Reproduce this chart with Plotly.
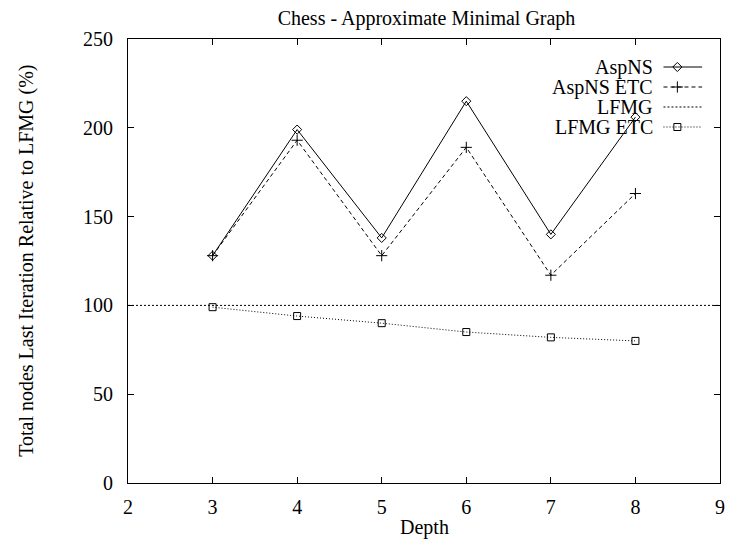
import plotly.graph_objects as go

# ---- data ----
depth = [3, 4, 5, 6, 7, 8]
aspns = [128, 199, 138, 215, 140, 206]
aspns_etc = [128, 193, 128, 189, 117, 163]
lfmg_x = [2, 9]
lfmg = [100, 100]
lfmg_etc = [99, 94, 90, 85, 82, 80]

series_names = ["AspNS", "AspNS ETC", "LFMG", "LFMG ETC"]
x_ticks = [2, 3, 4, 5, 6, 7, 8, 9]
y_ticks = [0, 50, 100, 150, 200, 250]

FONT = "Liberation Serif, Times New Roman, serif"
FS = 20
INK = "#000000"

W, H = 731, 542
L, R, T, B = 128, 725, 39, 483
PW, PH = R - L, B - T

styles = [
    dict(line=dict(color=INK, width=1, dash="solid"),
         marker=dict(symbol="diamond-open", size=7, color=INK, line=dict(width=1, color=INK))),
    dict(line=dict(color=INK, width=1, dash="4px,3px"),
         marker=dict(symbol="cross-thin-open", size=8, color=INK, line=dict(width=1, color=INK))),
    dict(line=dict(color=INK, width=1, dash="2px,2px"),
         marker=dict(size=1, color="rgba(0,0,0,0)")),
    dict(line=dict(color=INK, width=1, dash="1px,2px"),
         marker=dict(symbol="square-open", size=7, color=INK, line=dict(width=1, color=INK))),
]

fig = go.Figure()
fig.add_trace(go.Scatter(x=depth, y=aspns, mode="lines+markers", name=series_names[0], **styles[0]))
fig.add_trace(go.Scatter(x=depth, y=aspns_etc, mode="lines+markers", name=series_names[1], **styles[1]))
fig.add_trace(go.Scatter(x=lfmg_x, y=lfmg, mode="lines", name=series_names[2], line=styles[2]["line"]))
fig.add_trace(go.Scatter(x=depth, y=lfmg_etc, mode="lines+markers", name=series_names[3], **styles[3]))

# ---- custom gnuplot-style key (pixel coordinates on an overlay axis) ----
key_rows = [67, 87, 107, 127]
key_text_right = 659
key_x0, key_x1, key_mark = 668, 707, 682
for i, (nm, st, ky) in enumerate(zip(series_names, styles, key_rows)):
    fig.add_trace(go.Scatter(x=[key_x0, key_x1], y=[ky, ky], mode="lines", line=st["line"],
                             xaxis="x2", yaxis="y2", showlegend=False, hoverinfo="skip"))
    if i != 2:
        fig.add_trace(go.Scatter(x=[key_mark], y=[ky], mode="markers", marker=st["marker"],
                                 xaxis="x2", yaxis="y2", showlegend=False, hoverinfo="skip"))
    fig.add_annotation(x=key_text_right, y=ky, xref="x2", yref="y2", text=nm, showarrow=False,
                       xanchor="right", yanchor="middle", font=dict(family=FONT, size=FS, color=INK))

# axis titles as annotations for precise placement (paper coordinates)
fig.add_annotation(x=0.5, y=(B - 527) / PH, xref="paper", yref="paper", text="Depth",
                   showarrow=False, xanchor="center", yanchor="middle",
                   font=dict(family=FONT, size=FS, color=INK))
fig.add_annotation(x=(25 - L) / PW, y=0.5, xref="paper", yref="paper",
                   text="Total nodes Last Iteration Relative to LFMG (%)", textangle=-90,
                   showarrow=False, xanchor="center", yanchor="middle",
                   font=dict(family=FONT, size=FS, color=INK))

axis_common = dict(showgrid=False, zeroline=False, showline=True, linecolor=INK, linewidth=1,
                   mirror="allticks", ticks="inside", ticklen=6, tickcolor=INK, tickwidth=1,
                   ticklabeloverflow="allow",
                   tickfont=dict(family=FONT, size=FS, color=INK))

fig.update_layout(
    width=W, height=H,
    margin=dict(l=L, r=W - R, t=T, b=H - B, pad=0),
    paper_bgcolor="white", plot_bgcolor="white",
    showlegend=False,
    font=dict(family=FONT, size=FS, color=INK),
    title=dict(text="Chess - Approximate Minimal Graph", x=(L + R) / 2 / W, xanchor="center",
               y=1 - 18 / H, yanchor="middle", font=dict(family=FONT, size=FS, color=INK)),
    xaxis=dict(range=[2, 9], tickvals=x_ticks, ticktext=[str(v) for v in x_ticks],
               ticklabelstandoff=6, **axis_common),
    yaxis=dict(range=[0, 250], tickvals=y_ticks, ticktext=[str(v) for v in y_ticks],
               ticklabelstandoff=10, **axis_common),
    xaxis2=dict(range=[L, R], overlaying="x", visible=False, fixedrange=True),
    yaxis2=dict(range=[B, T], overlaying="y", visible=False, fixedrange=True),
)

fig.write_html("out.html", config={"displayModeBar": False},
               post_script="document.body.style.margin='0';document.body.style.overflow='hidden';")
